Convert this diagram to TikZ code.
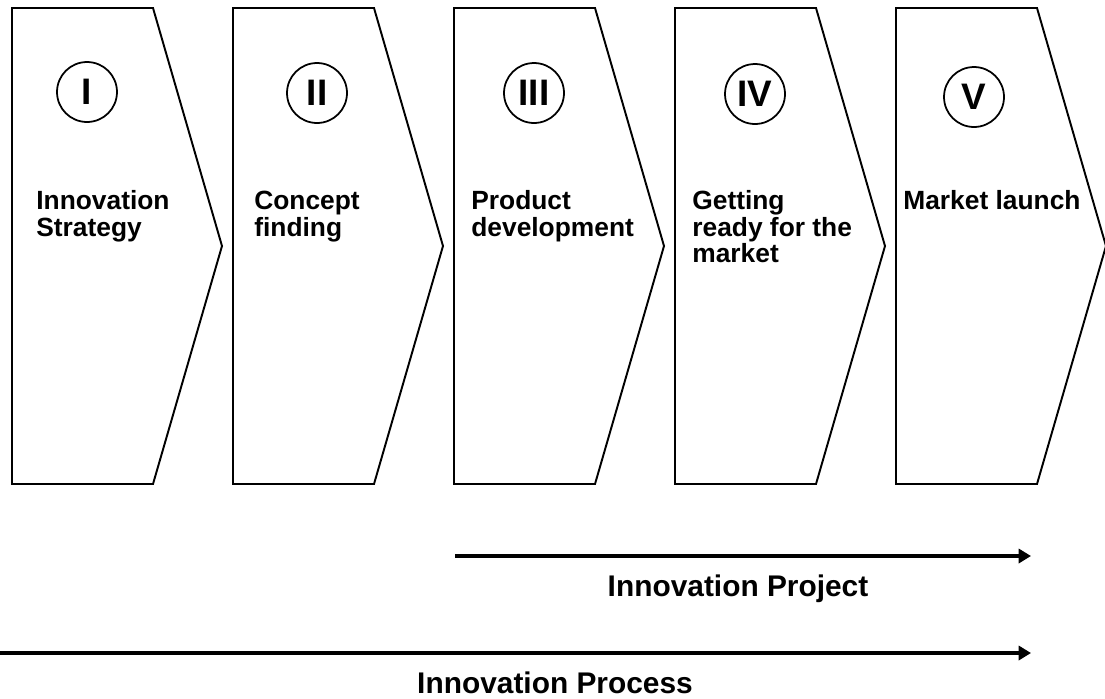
\documentclass[tikz,border=0pt]{standalone}
\usepackage{fontspec}
\setmainfont{Liberation Sans}
\usetikzlibrary{arrows.meta}

\newcommand\phasefont{\fontsize{15}{15.2}\selectfont\bfseries}

\tikzset{
  phase/.style={line width=1.1pt,line join=miter},
  phasenum/.style={circle,draw,line width=1pt,minimum size=1.2cm,inner sep=0pt,font=\fontsize{21}{21}\selectfont\bfseries},
  phasetext/.style={anchor=north west,inner sep=0pt,align=left,font=\phasefont},
  spanline/.style={line width=2pt,-{Triangle[length=7pt,width=8pt]}},
  spanlabel/.style={anchor=base,inner sep=0pt,font=\fontsize{17}{17}\selectfont\bfseries}
}

\begin{document}
\begin{tikzpicture}[x=0.02cm,y=-0.02cm]
        \useasboundingbox (0,0) rectangle (1105,698);
        %阶段;
        \foreach \L in {12,233,454,675,896}
          \draw [phase] (\L,8) -- ++(141,0) -- ++(69,238) -- ++(-69,238) -- ++(-141,0) -- cycle;
        %编号
        \node [phasenum] (n1) at (87,92) {I};
        \node [phasenum] (n2) at (317,93) {II};
        \node [phasenum] (n3) at (534,93) {III};
        \node [phasenum] (n4) at (755,94) {\raisebox{-3pt}{IV}};
        \node [phasenum] (n5) at (974,97) {V};
        %文字
        \node [phasetext] (t1) at (36,190) {Innovation\\Strategy};
        \node [phasetext] (t2) at (254,191) {Concept\\finding};
        \node [phasetext] (t3) at (471,190) {Product\\development};
        \node [phasetext] (t4) at (692,190) {Getting\\ready for the\\market};
        \node [phasetext] (t5) at (903,190) {Market launch};
        %项目与过程
        \coordinate (projA) at (455,556);
        \coordinate (projB) at (1031,556);
        \coordinate (procA) at (0,653);
        \coordinate (procB) at (1031,653);
        \draw [spanline] (projA) -- (projB);
        \draw [spanline] (procA) -- (procB);
        \node [spanlabel] (proj) at (738,596) {Innovation Project};
        \node [spanlabel] (proc) at (555,693) {Innovation Process};
\end{tikzpicture}
\end{document}
